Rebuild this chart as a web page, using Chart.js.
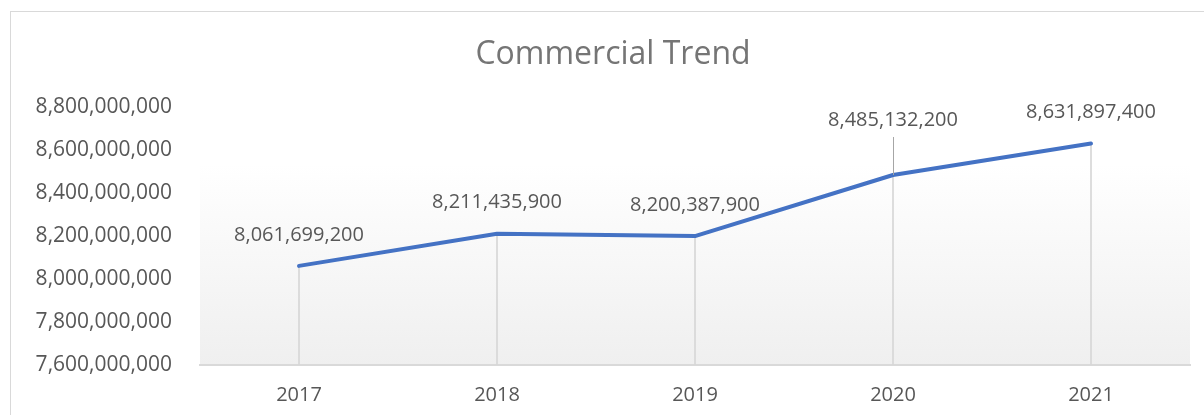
<!DOCTYPE html>
<html>
<head>
<meta charset="utf-8">
<script src="https://cdn.jsdelivr.net/npm/chart.js@4"></script>
<style>
  html, body { margin: 0; padding: 0; background: #fff; overflow: hidden; }
  .frame { position: absolute; left: 10px; top: 11px; width: 1300px; height: 500px; border: 1px solid #d9d9d9; }
  .chart-container { position: absolute; left: 0; top: 0; width: 1226px; height: 415px; }
</style>
</head>
<body>
<div class="frame"></div>
<div class="chart-container">
  <canvas id="trendChart"></canvas>
</div>
<script>
const years = ['2017', '2018', '2019', '2020', '2021'];
const commercial = [8061699200, 8211435900, 8200387900, 8485132200, 8631897400];
const yMin = 7600000000;
const yMax = 8800000000;
const yStep = 200000000;

const FONT = 'Open Sans';
const TEXT = '#575757';
const fmt = v => Number(v).toLocaleString('en-US');

// soft white -> grey fill behind the plot, like the Excel plot area
const plotFill = {
  id: 'plotFill',
  beforeDraw(chart) {
    const { ctx, chartArea: a } = chart;
    const top = a.top + (a.bottom - a.top) * 0.22;
    const g = ctx.createLinearGradient(0, top, 0, a.bottom);
    g.addColorStop(0, '#ffffff');
    g.addColorStop(1, '#efefef');
    ctx.save();
    ctx.fillStyle = g;
    ctx.fillRect(a.left, top, a.right - a.left, a.bottom - top);
    ctx.restore();
  }
};

// value labels above each point; 2020 sits higher with a leader line
const pointLabels = {
  id: 'pointLabels',
  afterDatasetsDraw(chart) {
    const { ctx } = chart;
    const meta = chart.getDatasetMeta(0);
    ctx.save();
    ctx.font = '20px "' + FONT + '"';
    ctx.fillStyle = TEXT;
    ctx.textAlign = 'center';
    ctx.textBaseline = 'middle';
    meta.data.forEach((pt, i) => {
      let lift = 31;
      if (years[i] === '2020') {
        lift = 55;
        ctx.strokeStyle = '#a6a6a6';
        ctx.lineWidth = 1;
        ctx.beginPath();
        ctx.moveTo(pt.x + 0.5, pt.y - 38);
        ctx.lineTo(pt.x + 0.5, pt.y);
        ctx.stroke();
      }
      ctx.fillText(fmt(commercial[i]), pt.x, pt.y - lift);
    });
    ctx.restore();
  }
};

new Chart(document.getElementById('trendChart'), {
  type: 'line',
  data: {
    labels: years,
    datasets: [
      {
        type: 'line',
        data: commercial,
        borderColor: '#4472C4',
        borderWidth: 4,
        borderCapStyle: 'round',
        borderJoinStyle: 'round',
        pointRadius: 0,
        tension: 0,
        order: 0
      },
      {
        // drop lines from each point down to the axis
        type: 'bar',
        data: commercial,
        backgroundColor: '#d6d6d6',
        barThickness: 1,
        order: 1
      }
    ]
  },
  options: {
    responsive: true,
    maintainAspectRatio: false,
    animation: false,
    layout: { padding: { left: 36, right: 36, top: 0, bottom: 0 } },
    plugins: {
      legend: { display: false },
      tooltip: { enabled: false },
      title: {
        display: true,
        text: 'Commercial Trend',
        color: '#757575',
        font: { family: FONT, size: 32, weight: 'normal' },
        padding: { top: 36, bottom: 33 }
      }
    },
    scales: {
      x: {
        offset: true,
        grid: { display: false, drawTicks: false },
        border: { display: true, color: '#d9d9d9', width: 2 },
        ticks: { color: TEXT, font: { family: FONT, size: 20 }, padding: 18 },
        afterFit: s => { s.height = 50; }
      },
      y: {
        min: yMin,
        max: yMax,
        grid: { display: false, drawTicks: false },
        border: { display: false },
        ticks: {
          stepSize: yStep,
          color: TEXT,
          font: { family: FONT, size: 21 },
          padding: 28,
          callback: v => fmt(v)
        },
        afterFit: s => { s.width = 164; }
      }
    }
  },
  plugins: [plotFill, pointLabels]
});
</script>
</body>
</html>
